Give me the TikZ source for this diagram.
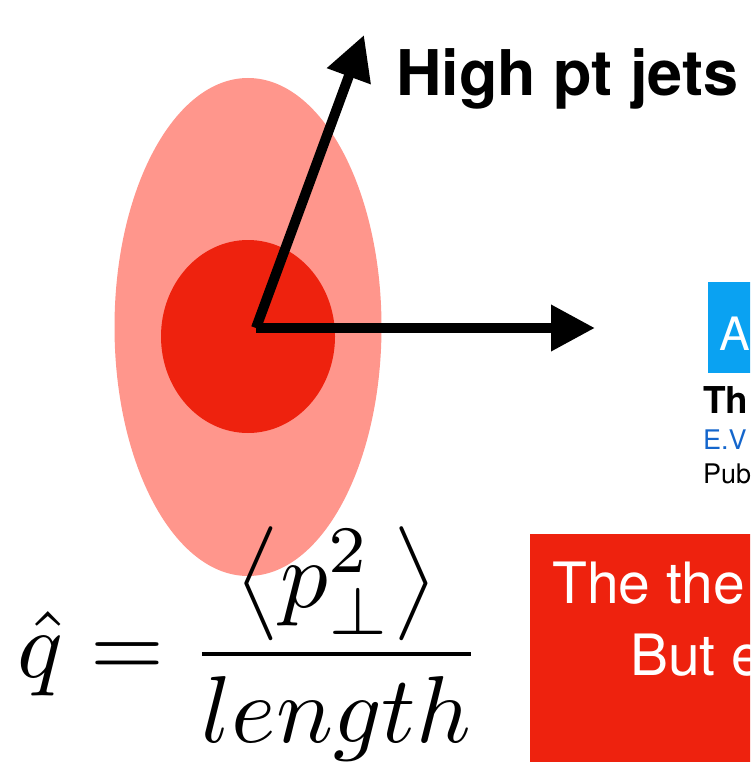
\documentclass[tikz,border=0pt]{standalone}
\usepackage{fontspec}
\setmainfont{TeX Gyre Heros}
\usetikzlibrary{arrows.meta,shapes.geometric}
\definecolor{halo}{RGB}{255,150,140}
\definecolor{core}{RGB}{238,34,14}
\definecolor{abox}{RGB}{10,162,242}
\definecolor{linkblue}{RGB}{20,102,204}
\definecolor{redbox}{RGB}{238,34,14}
\begin{document}
\begin{tikzpicture}[x=1pt,y=-1pt,
  jet/.style={line width=10pt,-{Triangle[length=44pt,width=44pt]}},
  txt/.style={anchor=base west,inner sep=0pt},
  fs/.style={font=\fontsize{#1}{#1}\selectfont}]
\useasboundingbox (0,0) rectangle (750,762);
\clip (0,0) rectangle (750,762);
% medium
\node[ellipse,fill=halo,inner sep=0pt,minimum width=267pt,minimum height=498pt] (medium) at (248,327) {};
\node[ellipse,fill=core,inner sep=0pt,minimum width=174pt,minimum height=193pt] (coreblob) at (248,336.5) {};
% jets
\coordinate (o) at (256,328);
\coordinate (jetA) at (364,35);
\coordinate (jetB) at (595,328);
\draw[jet] (o) -- (jetA);
\draw[jet] (o) -- (jetB);
\node[txt,font=\bfseries\fontsize{63}{63}\selectfont] (title) at (396,96) {High pt jets};
% blue box
\node[fill=abox,anchor=north west,inner sep=0pt,minimum width=60pt,minimum height=91pt] (abx) at (708,282) {};
\node[txt,text=white,fs=46] (atext) at (719,350) {A};
\node[txt,font=\bfseries\fontsize{37}{37}\selectfont] (th) at (703,413) {Th};
\node[txt,text=linkblue,fs=27] (ev) at (703,449) {E.V};
\node[txt,fs=27] (pub) at (703,483) {Pub};
% red box
\node[fill=redbox,anchor=north west,inner sep=0pt,minimum width=240pt,minimum height=240pt] (rbx) at (530,534) {};
\node[txt,text=white,fs=57] (l1) at (552,603) {The the};
\node[txt,text=white,fs=57] (l2) at (630,675) {But e};
% formula
\node[anchor=west,inner sep=0pt,scale=9.5] (qhat) at (16,644) {$\displaystyle \hat{q} = \frac{\left\langle p_\perp^2 \right\rangle}{length}$};
\end{tikzpicture}
\end{document}
